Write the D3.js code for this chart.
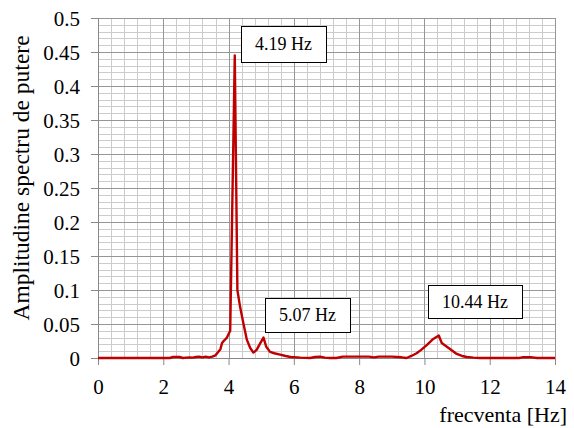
<!DOCTYPE html>
<meta charset="utf-8">
<script src="https://d3js.org/d3.v7.min.js"></script>
<style>
  body { margin: 0; background: #fff; }
  text { font-family: "Liberation Serif", "Times New Roman", serif; fill: #000; }
</style>
<div id="chart"></div>
<script>
// spectrum
var freq = [0, 0.5, 1, 1.5, 2, 2.2, 2.3, 2.5, 2.6, 2.7, 2.8, 2.9, 3.0, 3.1, 3.2, 3.3, 3.4, 3.5, 3.6, 3.7, 3.75, 3.8, 3.85, 3.95, 4.02, 4.05,
            4.19, 4.27, 4.35, 4.45, 4.56, 4.66, 4.76, 4.86, 4.95, 5.07, 5.15, 5.27, 5.4, 5.58, 5.75, 5.9, 6.2, 6.5, 6.65, 6.8, 6.95,
            7.1, 7.3, 7.5, 7.6, 8.0, 8.3, 8.45, 8.6, 9.0, 9.3, 9.45, 9.6, 9.76, 9.9, 10.07, 10.27, 10.44, 10.53, 10.73, 10.99,
            11.15, 11.3, 11.5, 11.7, 12.0, 12.5, 12.9, 13.0, 13.3, 13.45, 14];
var amp = [0, 0, 0, 0, 0, 0, 0.0015, 0.0015, 0, 0.0005, 0.001, 0.0005, 0.0015, 0.002, 0.001, 0.002, 0.001, 0.002, 0.004, 0.01, 0.013, 0.022, 0.025, 0.03, 0.037, 0.04,
           0.445, 0.1, 0.076, 0.052, 0.027, 0.015, 0.008, 0.012, 0.02, 0.03, 0.017, 0.009, 0.007, 0.005, 0.003, 0.0015, 0.0005, 0, 0.0015, 0.002, 0.0005,
           0, 0, 0.002, 0.002, 0.002, 0.002, 0.001, 0.002, 0.002, 0.001, 0, 0.003, 0.007, 0.012, 0.019, 0.028, 0.033, 0.022, 0.015, 0.006,
           0.003, 0.0015, 0.0005, 0, 0, 0, 0, 0.001, 0.001, 0, 0];

var xTicks = [0, 2, 4, 6, 8, 10, 12, 14];
var yTicks = [0, 0.05, 0.1, 0.15, 0.2, 0.25, 0.3, 0.35, 0.4, 0.45, 0.5];

var peakLabels = ["4.19 Hz", "5.07 Hz", "10.44 Hz"];
var peakFreq = [4.19, 5.07, 10.44];

var W = 574, H = 428;
var margin = {top: 18, right: 19, bottom: 70, left: 98};
var width = W - margin.left - margin.right,
    height = H - margin.top - margin.bottom;

var svg = d3.select("#chart").append("svg")
    .attr("width", W).attr("height", H);
var g = svg.append("g")
    .attr("transform", "translate(" + margin.left + "," + margin.top + ")");

var x = d3.scaleLinear().domain([0, 14]).range([0, width]);
var y = d3.scaleLinear().domain([0, 0.5]).range([height, 0]);

function px(v) { return Math.round(v) + 0.5; }

// minor grid
g.append("g").selectAll("line").data(d3.range(0, 14.001, 0.4)).enter().append("line")
  .attr("x1", function(d) { return px(x(d)); })
  .attr("x2", function(d) { return px(x(d)); })
  .attr("y1", 0).attr("y2", height)
  .attr("stroke", "#cccccc");
g.append("g").selectAll("line").data(d3.range(0, 0.5001, 0.01)).enter().append("line")
  .attr("y1", function(d) { return px(y(d)); })
  .attr("y2", function(d) { return px(y(d)); })
  .attr("x1", 0).attr("x2", width)
  .attr("stroke", "#cccccc");

// major grid
g.append("g").selectAll("line").data(xTicks).enter().append("line")
  .attr("x1", function(d) { return px(x(d)); })
  .attr("x2", function(d) { return px(x(d)); })
  .attr("y1", 0).attr("y2", height)
  .attr("stroke", "#969696");
g.append("g").selectAll("line").data(yTicks).enter().append("line")
  .attr("y1", function(d) { return px(y(d)); })
  .attr("y2", function(d) { return px(y(d)); })
  .attr("x1", 0).attr("x2", width)
  .attr("stroke", "#969696");

// axes
var yAxis = g.append("g")
  .call(d3.axisLeft(y).tickValues(yTicks).tickSize(7).tickPadding(11).tickFormat(function(d) { return String(+d.toFixed(2)); }));
var xAxis = g.append("g")
  .attr("transform", "translate(0," + height + ")")
  .call(d3.axisBottom(x).tickValues(xTicks).tickSize(7).tickPadding(14).tickFormat(d3.format("d")));
[yAxis, xAxis].forEach(function(a) {
  a.attr("font-family", null);
  a.select(".domain").attr("stroke", "#888");
  a.selectAll(".tick line").attr("stroke", "#888");
  a.selectAll(".tick text").attr("font-size", 21).attr("fill", "#000");
});
yAxis.selectAll(".tick text").attr("dy", "0.34em");

// curve
var pts = freq.map(function(f, i) { return [f, amp[i]]; });
g.append("path")
  .datum(pts)
  .attr("fill", "none")
  .attr("stroke", "#c00000")
  .attr("stroke-width", 2.4)
  .attr("stroke-linejoin", "round")
  .attr("d", d3.line()
    .x(function(d) { return x(d[0]); })
    .y(function(d) { return y(d[1]); }));

// peak boxes, offset in px from the peak point
var boxes = [
  {dx: 6, dy: -29, w: 85, h: 36},
  {dx: 2, dy: -40, w: 85, h: 34},
  {dx: -11, dy: -51, w: 94, h: 33}
];
peakLabels.forEach(function(lbl, i) {
  var fi = freq.indexOf(peakFreq[i]);
  var bx = Math.round(x(peakFreq[i]) + boxes[i].dx);
  var by = Math.round(y(amp[fi]) + boxes[i].dy);
  var bg = g.append("g").attr("transform", "translate(" + bx + "," + by + ")");
  bg.append("rect")
    .attr("x", 0.5).attr("y", 0.5)
    .attr("width", boxes[i].w).attr("height", boxes[i].h)
    .attr("fill", "#fff").attr("stroke", "#000").attr("stroke-width", 1);
  bg.append("text")
    .attr("x", boxes[i].w / 2).attr("y", boxes[i].h / 2 + 6)
    .attr("text-anchor", "middle")
    .attr("font-size", 18)
    .text(lbl);
});

// titles
svg.append("text")
  .attr("transform", "translate(29,178) rotate(-90)")
  .attr("text-anchor", "middle")
  .attr("font-size", 23.5)
  .text("Amplitudine spectru de putere");
svg.append("text")
  .attr("x", 567).attr("y", 422)
  .attr("text-anchor", "end")
  .attr("font-size", 22)
  .text("frecventa [Hz]");
</script>
